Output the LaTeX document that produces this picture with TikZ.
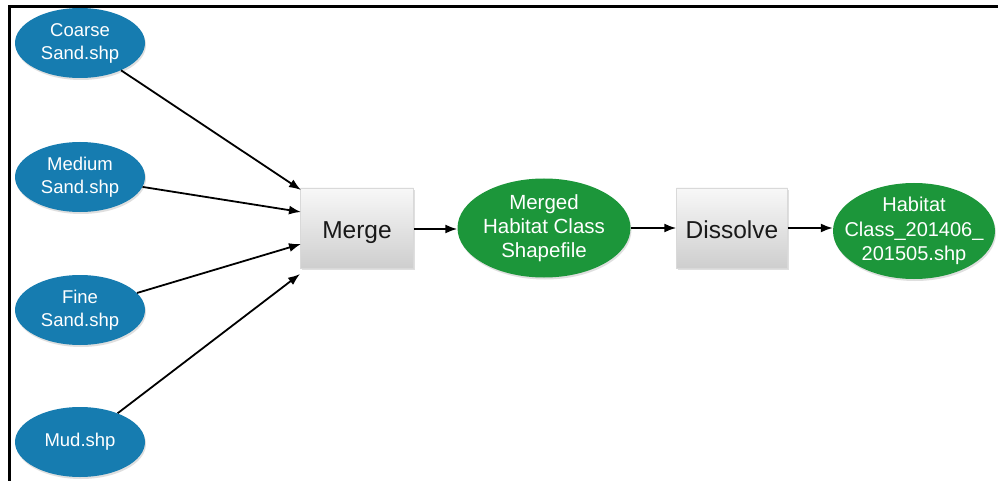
\documentclass[tikz,border=0pt]{standalone}
\usepackage{fontspec}
\setmainfont{Liberation Sans}
\usetikzlibrary{shapes.geometric,arrows.meta,shadows}
\definecolor{inblue}{RGB}{22,124,176}
\definecolor{ingreen}{RGB}{28,150,58}
\definecolor{boxtop}{RGB}{248,248,248}
\definecolor{boxbot}{RGB}{206,206,206}
\begin{document}
\begin{tikzpicture}[x=1pt,y=-1pt,
  inshape/.style={ellipse, fill=inblue, text=white, minimum width=130pt, minimum height=70pt, inner sep=0pt, align=center, font=\fontsize{18.5}{23}\selectfont, drop shadow={opacity=0.25, shadow xshift=1pt, shadow yshift=-2pt}},
  outshape/.style={ellipse, fill=ingreen, text=white, inner ysep=0pt, inner xsep=-22pt, align=center, drop shadow={opacity=0.25, shadow xshift=1pt, shadow yshift=-2pt}},
  toolbox/.style={rectangle, top color=boxtop, bottom color=boxbot, draw=black!15, line width=0.5pt, inner sep=0pt, text height=20pt, text depth=0pt, font=\fontsize{24.5}{28}\selectfont, text=black!90, drop shadow={opacity=0.25, shadow xshift=1pt, shadow yshift=-2pt}},
  conn/.style={draw=black, line width=1.8pt, -{Latex[length=12pt,width=9pt]}},
  frameline/.style={draw=black, line width=3.5pt}
]
\useasboundingbox (0,0) rectangle (998,481);
\fill[white] (0,0) rectangle (998,481);
\draw[frameline] (9.5,481) -- (9.5,6.5) -- (998,6.5);

\node[inshape] (coarse) at (80,43) {Coarse\\Sand.shp};
\node[inshape] (medium) at (80,177) {Medium\\Sand.shp};
\node[inshape] (fine) at (80,310) {Fine\\Sand.shp};
\node[inshape] (mud) at (80,442) {Mud.shp};

\node[toolbox, minimum width=113pt, minimum height=80pt] (merge) at (357,228) {Merge};
\node[outshape, minimum width=173pt, minimum height=99pt, font=\fontsize{20.5}{24}\selectfont] (merged) at (544,228) {Merged\\Habitat Class\\Shapefile};
\node[toolbox, minimum width=111pt, minimum height=80pt] (dissolve) at (732,228) {Dissolve};
\node[outshape, minimum width=162pt, minimum height=96pt, font=\fontsize{20}{24.5}\selectfont] (habitat) at (914,231) {Habitat\\Class\_201406\_\\201505.shp};

\coordinate (t1) at (301,190);
\coordinate (t2) at (301,212);
\coordinate (t3) at (301,244);
\coordinate (t4) at (300,274);

\draw[conn] (coarse) -- (t1);
\draw[conn] (medium) -- (t2);
\draw[conn] (fine) -- (t3);
\draw[conn] (mud) -- (t4);
\draw[conn] (merge.east) ++(0,1) coordinate (m1) -- (merged.west |- m1);
\draw[conn] (merged) -- (dissolve);
\draw[conn] (dissolve) -- (habitat.west |- dissolve.east);
\end{tikzpicture}
\end{document}
